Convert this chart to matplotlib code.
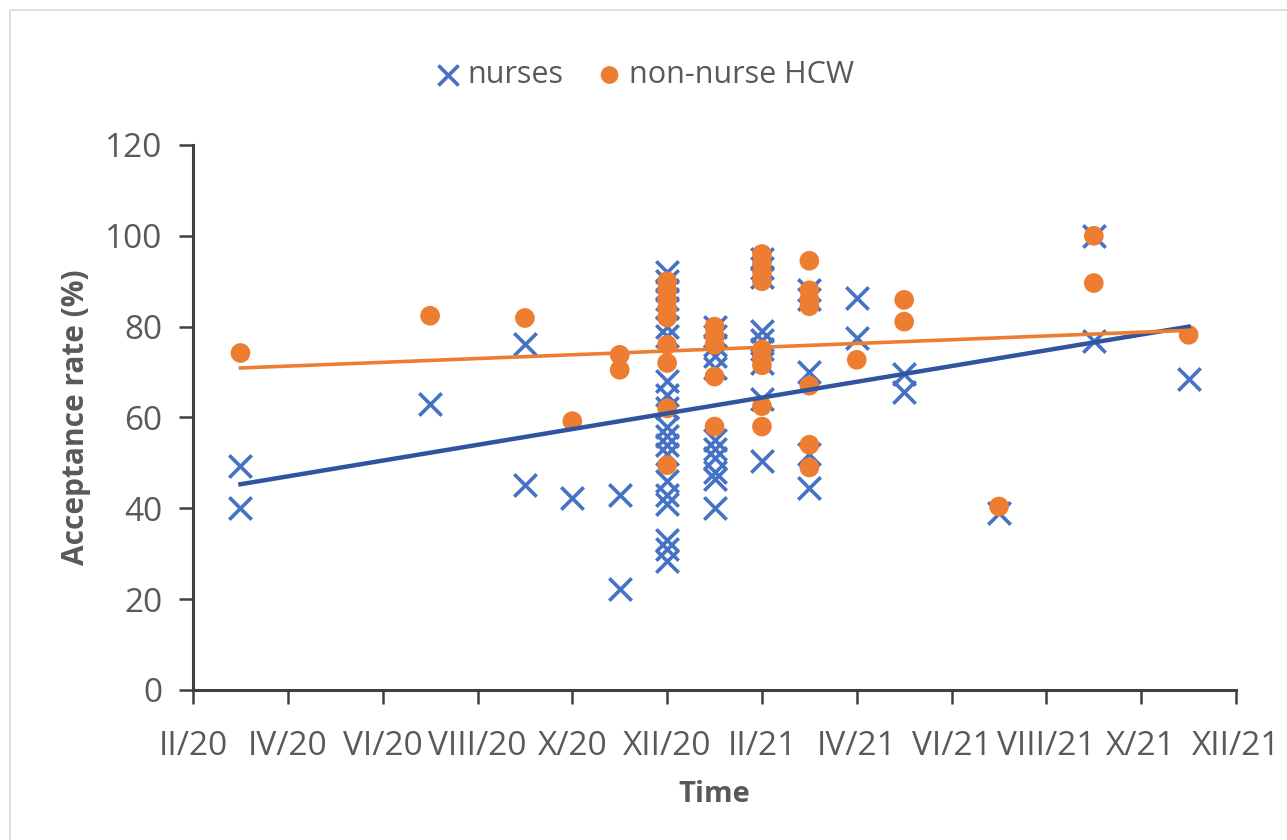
# Acceptance rate over time: nurses vs non-nurse HCW, with linear trendlines.
import matplotlib
matplotlib.use("Agg")
import matplotlib.pyplot as plt
from matplotlib.patches import Rectangle

# months counted from February 2020 (0 = II/20)
tick_months = [0, 2, 4, 6, 8, 10, 12, 14, 16, 18, 20, 22]
tick_labels = ["II/20", "IV/20", "VI/20", "VIII/20", "X/20", "XII/20",
               "II/21", "IV/21", "VI/21", "VIII/21", "X/21", "XII/21"]

nurses_x = ([1] * 2 + [5] + [7] * 2 + [8] + [9] * 2 + [10] * 20 + [11] * 11
            + [12] * 9 + [13] * 5 + [14] * 2 + [15] * 2 + [17] + [19] * 2 + [21])
nurses_y = [49.3, 40,
            63,
            76.2, 45.2,
            42.3,
            43, 22.3,
            92, 90, 88, 86, 84, 80, 78, 68, 65, 62, 58, 56, 54, 52, 46, 43, 41, 33, 31, 28.5,
            80, 78, 76, 73.5, 71, 55, 53, 51, 48, 46.5, 40,
            95, 93, 91, 79, 77, 75, 72, 64, 50.5,
            88, 86, 70, 52, 44.5,
            86.3, 77.5,
            69.6, 65.7,
            39,
            100, 76.9,
            68.5]

hcw_x = ([1] + [5] + [7] + [8] + [9] * 2 + [10] * 9 + [11] * 5 + [12] * 9
         + [13] * 7 + [14] + [15] * 2 + [17] + [19] * 2 + [21])
hcw_y = [74.2,
         82.4,
         81.9,
         59.2,
         73.8, 70.5,
         90, 88, 86, 84, 82, 76, 72, 62, 49.5,
         80, 78, 76, 69, 58,
         96, 94, 92, 90, 75, 73, 71.5, 62.5, 58,
         94.5, 88, 86, 84.5, 67, 54, 49,
         72.7,
         85.9, 81.1,
         40.4,
         100, 89.6,
         78.2]

# trendline end points
trend_x = [1, 21]
nurses_trend = [45.3, 80.0]
hcw_trend = [70.9, 79.2]

BLUE = "#4472C4"
BLUE_DARK = "#2F55A0"
ORANGE = "#ED7D31"
GREY = "#595959"
AXIS = "#404040"

plt.rcParams["font.family"] = ["Open Sans", "DejaVu Sans"]

fig = plt.figure(figsize=(12.87, 8.40), dpi=100)
ax = fig.add_axes([0.150, 0.1786, 0.8104, 0.6488])

ax.scatter(nurses_x, nurses_y, marker="x", s=260, linewidths=2.6, color=BLUE,
           zorder=3, label="nurses")
ax.scatter(hcw_x, hcw_y, marker="o", s=200, color=ORANGE, edgecolors="none",
           zorder=4, label="non-nurse HCW")
ax.plot(trend_x, nurses_trend, color=BLUE_DARK, lw=3.2, zorder=5)
ax.plot(trend_x, hcw_trend, color=ORANGE, lw=2.6, zorder=5)

ax.set_xlim(0, 22)
ax.set_ylim(0, 120)
ax.set_xticks(tick_months)
ax.set_xticklabels(tick_labels)
ax.set_yticks(range(0, 121, 20))

for side in ("top", "right"):
    ax.spines[side].set_visible(False)
for side in ("left", "bottom"):
    ax.spines[side].set_color(AXIS)
    ax.spines[side].set_linewidth(2.2)
ax.tick_params(axis="both", colors=AXIS, width=1.8, length=10, labelsize=24,
               labelcolor=GREY)
ax.tick_params(axis="x", pad=19)
ax.tick_params(axis="y", pad=12)

ax.set_xlabel("Time", fontsize=21, fontweight="bold", color=GREY, labelpad=12)
ax.set_ylabel("Acceptance rate (%)", fontsize=21.5, fontweight="bold", color=GREY,
              labelpad=10)

fig.legend(loc="center", bbox_to_anchor=(0.500, 1 - 75 / 840), ncol=2, frameon=False,
           fontsize=22, labelcolor=GREY, handlelength=1.0, handletextpad=0.15,
           columnspacing=1.0, markerscale=0.9)

# light chart border like the spreadsheet frame
fig.patches.append(Rectangle((10 / 1287, -0.1), 1.2, 1.1 - 10 / 840,
                             transform=fig.transFigure, fill=False,
                             edgecolor="#D9D9D9", lw=1.2))

fig.savefig("out.png", dpi=100)
